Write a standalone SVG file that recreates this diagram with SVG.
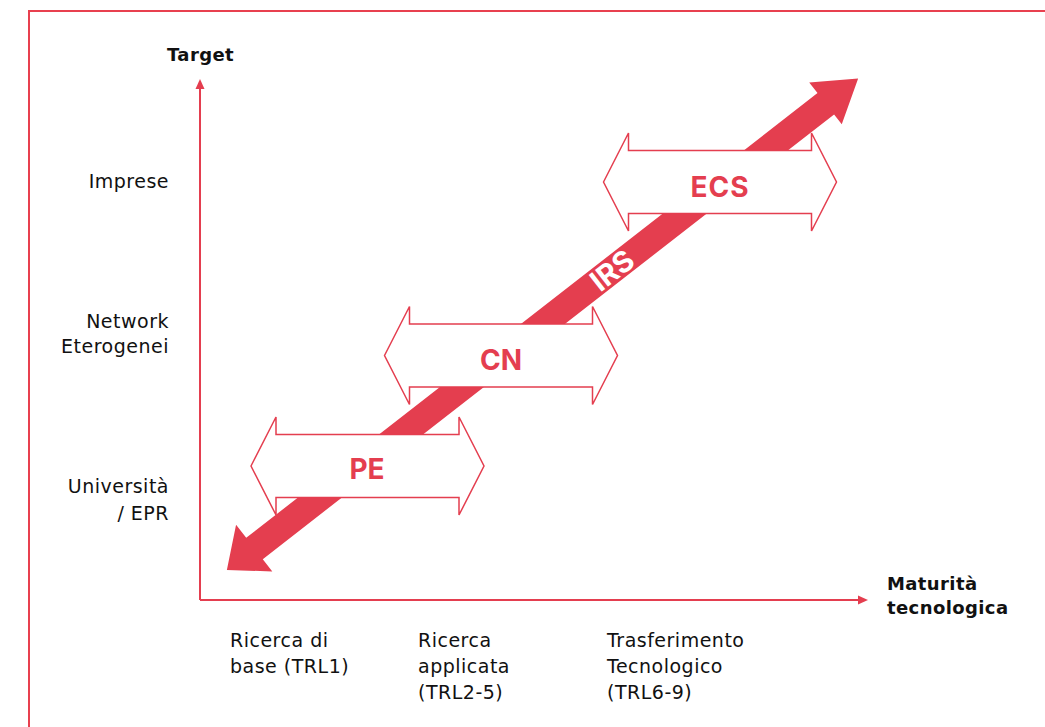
<svg xmlns="http://www.w3.org/2000/svg" width="1045" height="727" viewBox="0 0 1045 727">
<style>
.lbl{font-family:"DejaVu Sans",sans-serif;font-size:19px;letter-spacing:0.5px;fill:#111}
.bl{font-family:"DejaVu Sans",sans-serif;font-size:18px;font-weight:bold;fill:#111;letter-spacing:0.4px}
.tag{font-family:Inter,"Liberation Sans",sans-serif;font-size:28px;font-weight:bold;fill:#e43e4f;text-anchor:middle}
.dbl{fill:#fff;stroke:#e43e4f;stroke-width:1.5}
.ax{stroke:#e43e4f;stroke-width:2;fill:none}
</style>
<defs>
<path id="dbl" d="M -116.5 0 L -91.5 -49 L -91.5 -31.5 L 91.5 -31.5 L 91.5 -49 L 116.5 0 L 91.5 49 L 91.5 31.5 L -91.5 31.5 L -91.5 49 Z"/>
</defs>
<rect x="29" y="11" width="1100" height="800" fill="none" stroke="#e8404f" stroke-width="2"/>
<g id="axes">
<line class="ax" x1="200" y1="600" x2="200" y2="86"/>
<polygon points="200,79 195.5,89 204.5,89" fill="#e43e4f"/>
<line class="ax" x1="200" y1="600" x2="860" y2="600"/>
<polygon points="868,600 858,595.5 858,604.5" fill="#e43e4f"/>
</g>
<g id="irs">
<g transform="translate(254.5 548.5) rotate(-37.9)">
<polygon points="-35,0 0,-30 0,-13.5 724,-13.5 724,-27 765,0 724,26 724,13.5 0,13.5 0,29" fill="#e43e4f"/>
<text x="453" y="10.5" font-family="Inter,'Liberation Sans',sans-serif" font-size="29" font-weight="bold" fill="#fff" text-anchor="middle">IRS</text>
</g>
</g>
<g id="pe">
<use href="#dbl" class="dbl" transform="translate(367.5 466)"/>
<text class="tag" x="367" y="479">PE</text>
</g>
<g id="cn">
<use href="#dbl" class="dbl" transform="translate(501 355.5)"/>
<text class="tag" x="501" y="370">CN</text>
</g>
<g id="ecs">
<use href="#dbl" class="dbl" transform="translate(720 182)"/>
<text class="tag" x="720" y="196.5" letter-spacing="1">ECS</text>
</g>
<g id="labels">
<text class="bl" x="167" y="61">Target</text>
<text class="lbl" x="169" y="188" text-anchor="end">Imprese</text>
<text class="lbl" x="169" y="328" text-anchor="end">Network</text>
<text class="lbl" x="169" y="353" text-anchor="end">Eterogenei</text>
<text class="lbl" x="169" y="493" text-anchor="end">Università</text>
<text class="lbl" x="169" y="520" text-anchor="end">/ EPR</text>
<text class="bl" x="887" y="590">Maturità</text>
<text class="bl" x="887" y="614">tecnologica</text>
<text class="lbl" x="230" y="647">Ricerca di</text>
<text class="lbl" x="230" y="673">base (TRL1)</text>
<text class="lbl" x="418" y="647">Ricerca</text>
<text class="lbl" x="418" y="673">applicata</text>
<text class="lbl" x="418" y="699">(TRL2-5)</text>
<text class="lbl" x="607" y="647">Trasferimento</text>
<text class="lbl" x="607" y="673">Tecnologico</text>
<text class="lbl" x="607" y="699">(TRL6-9)</text>
</g>
</svg>
